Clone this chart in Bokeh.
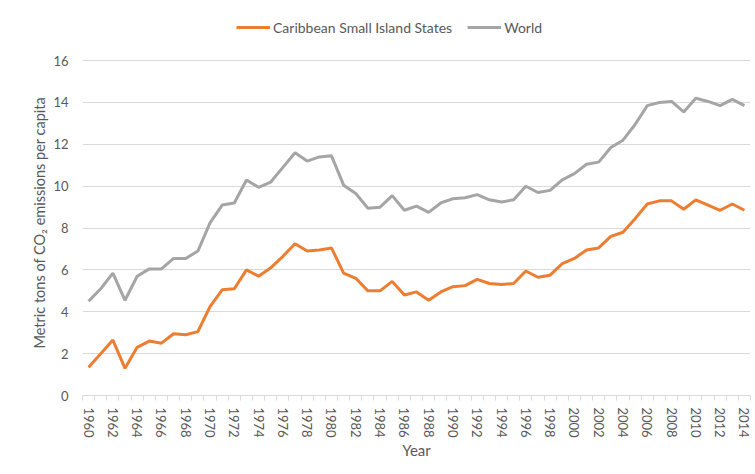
from bokeh.plotting import figure
from bokeh.models import FixedTicker, Legend, LegendItem, Title
from bokeh.embed import file_html
from bokeh.resources import INLINE

years = list(range(1960, 2015))
caribbean = [1.35, 2.0, 2.65, 1.3, 2.3, 2.6, 2.5, 2.95, 2.9, 3.05,
             4.25, 5.05, 5.1, 6.0, 5.7, 6.1, 6.65, 7.25, 6.9, 6.95,
             7.05, 5.85, 5.6, 5.0, 5.0, 5.45, 4.8, 4.95, 4.55, 4.95,
             5.2, 5.25, 5.55, 5.35, 5.3, 5.35, 5.95, 5.65, 5.75, 6.3,
             6.55, 6.95, 7.05, 7.6, 7.8, 8.45, 9.15, 9.3, 9.3, 8.9,
             9.35, 9.1, 8.85, 9.15, 8.85]
world = [4.5, 5.1, 5.85, 4.55, 5.7, 6.05, 6.05, 6.55, 6.55, 6.9,
         8.25, 9.1, 9.2, 10.3, 9.95, 10.2, 10.9, 11.6, 11.2, 11.4,
         11.45, 10.05, 9.65, 8.95, 9.0, 9.55, 8.85, 9.05, 8.75, 9.2,
         9.4, 9.45, 9.6, 9.35, 9.25, 9.35, 10.0, 9.7, 9.8, 10.3,
         10.6, 11.05, 11.15, 11.85, 12.2, 12.95, 13.85, 14.0, 14.05, 13.55,
         14.2, 14.05, 13.85, 14.15, 13.85]
y_ticks = [0, 2, 4, 6, 8, 10, 12, 14, 16]
x_label_years = years[::2]

FONT = "Lato"
TXT = "#595959"

# y range extended above 16 to leave room for the legend inside the frame
p = figure(width=754, height=468, output_backend="svg", toolbar_location=None,
           x_range=(years[0] - 0.5, years[-1] + 0.5), y_range=(0, 18.3),
           min_border_left=82, min_border_right=4, min_border_top=12, min_border_bottom=73)
p.outline_line_color = None

l1 = p.line(years, caribbean, line_color="#ED7D31", line_width=3)
l2 = p.line(years, world, line_color="#A5A5A5", line_width=3)

legend = Legend(items=[LegendItem(label="Caribbean Small Island States", renderers=[l1]),
                       LegendItem(label="World", renderers=[l2])],
                orientation="horizontal", location=(154, 358),
                label_text_font=FONT, label_text_font_size="14px", label_text_color=TXT,
                glyph_width=34, spacing=15, border_line_color=None, background_fill_alpha=0,
                padding=4, margin=0, label_standoff=3)
p.add_layout(legend, "center")

p.xaxis.ticker = FixedTicker(ticks=x_label_years,
                             minor_ticks=[y - 0.5 for y in years] + [years[-1] + 0.5])
p.xaxis.major_label_orientation = "vertical"
p.xaxis.major_tick_in = 0
p.xaxis.major_tick_out = 0
p.xaxis.minor_tick_in = 0
p.xaxis.minor_tick_out = 5
p.xaxis.minor_tick_line_color = "#D9D9D9"
p.xaxis.axis_line_color = "#D9D9D9"
p.xaxis.major_label_text_font = FONT
p.xaxis.major_label_text_font_size = "13px"
p.xaxis.major_label_text_color = TXT
p.xaxis.major_label_standoff = 7
p.xaxis.axis_label = "Year"
p.xaxis.axis_label_text_font = FONT
p.xaxis.axis_label_text_font_size = "15px"
p.xaxis.axis_label_text_font_style = "normal"
p.xaxis.axis_label_text_color = TXT
p.xaxis.axis_label_standoff = 0

p.yaxis.ticker = FixedTicker(ticks=y_ticks)
p.yaxis.axis_line_color = None
p.yaxis.major_tick_in = 0
p.yaxis.major_tick_out = 0
p.yaxis.minor_tick_line_color = None
p.yaxis.major_label_text_font = FONT
p.yaxis.major_label_text_font_size = "13px"
p.yaxis.major_label_text_color = TXT
p.yaxis.major_label_standoff = 14

ytitle = Title(text="Metric tons of CO\u2082 emissions per capita", align="left", offset=47,
               text_font=FONT, text_font_size="14.5px", text_font_style="normal",
               text_color=TXT, standoff=6)
p.add_layout(ytitle, "left")

p.xgrid.grid_line_color = None
p.ygrid.grid_line_color = "#D9D9D9"
p.ygrid.grid_line_width = 1

open("out.html", "w").write(file_html(p, INLINE))
